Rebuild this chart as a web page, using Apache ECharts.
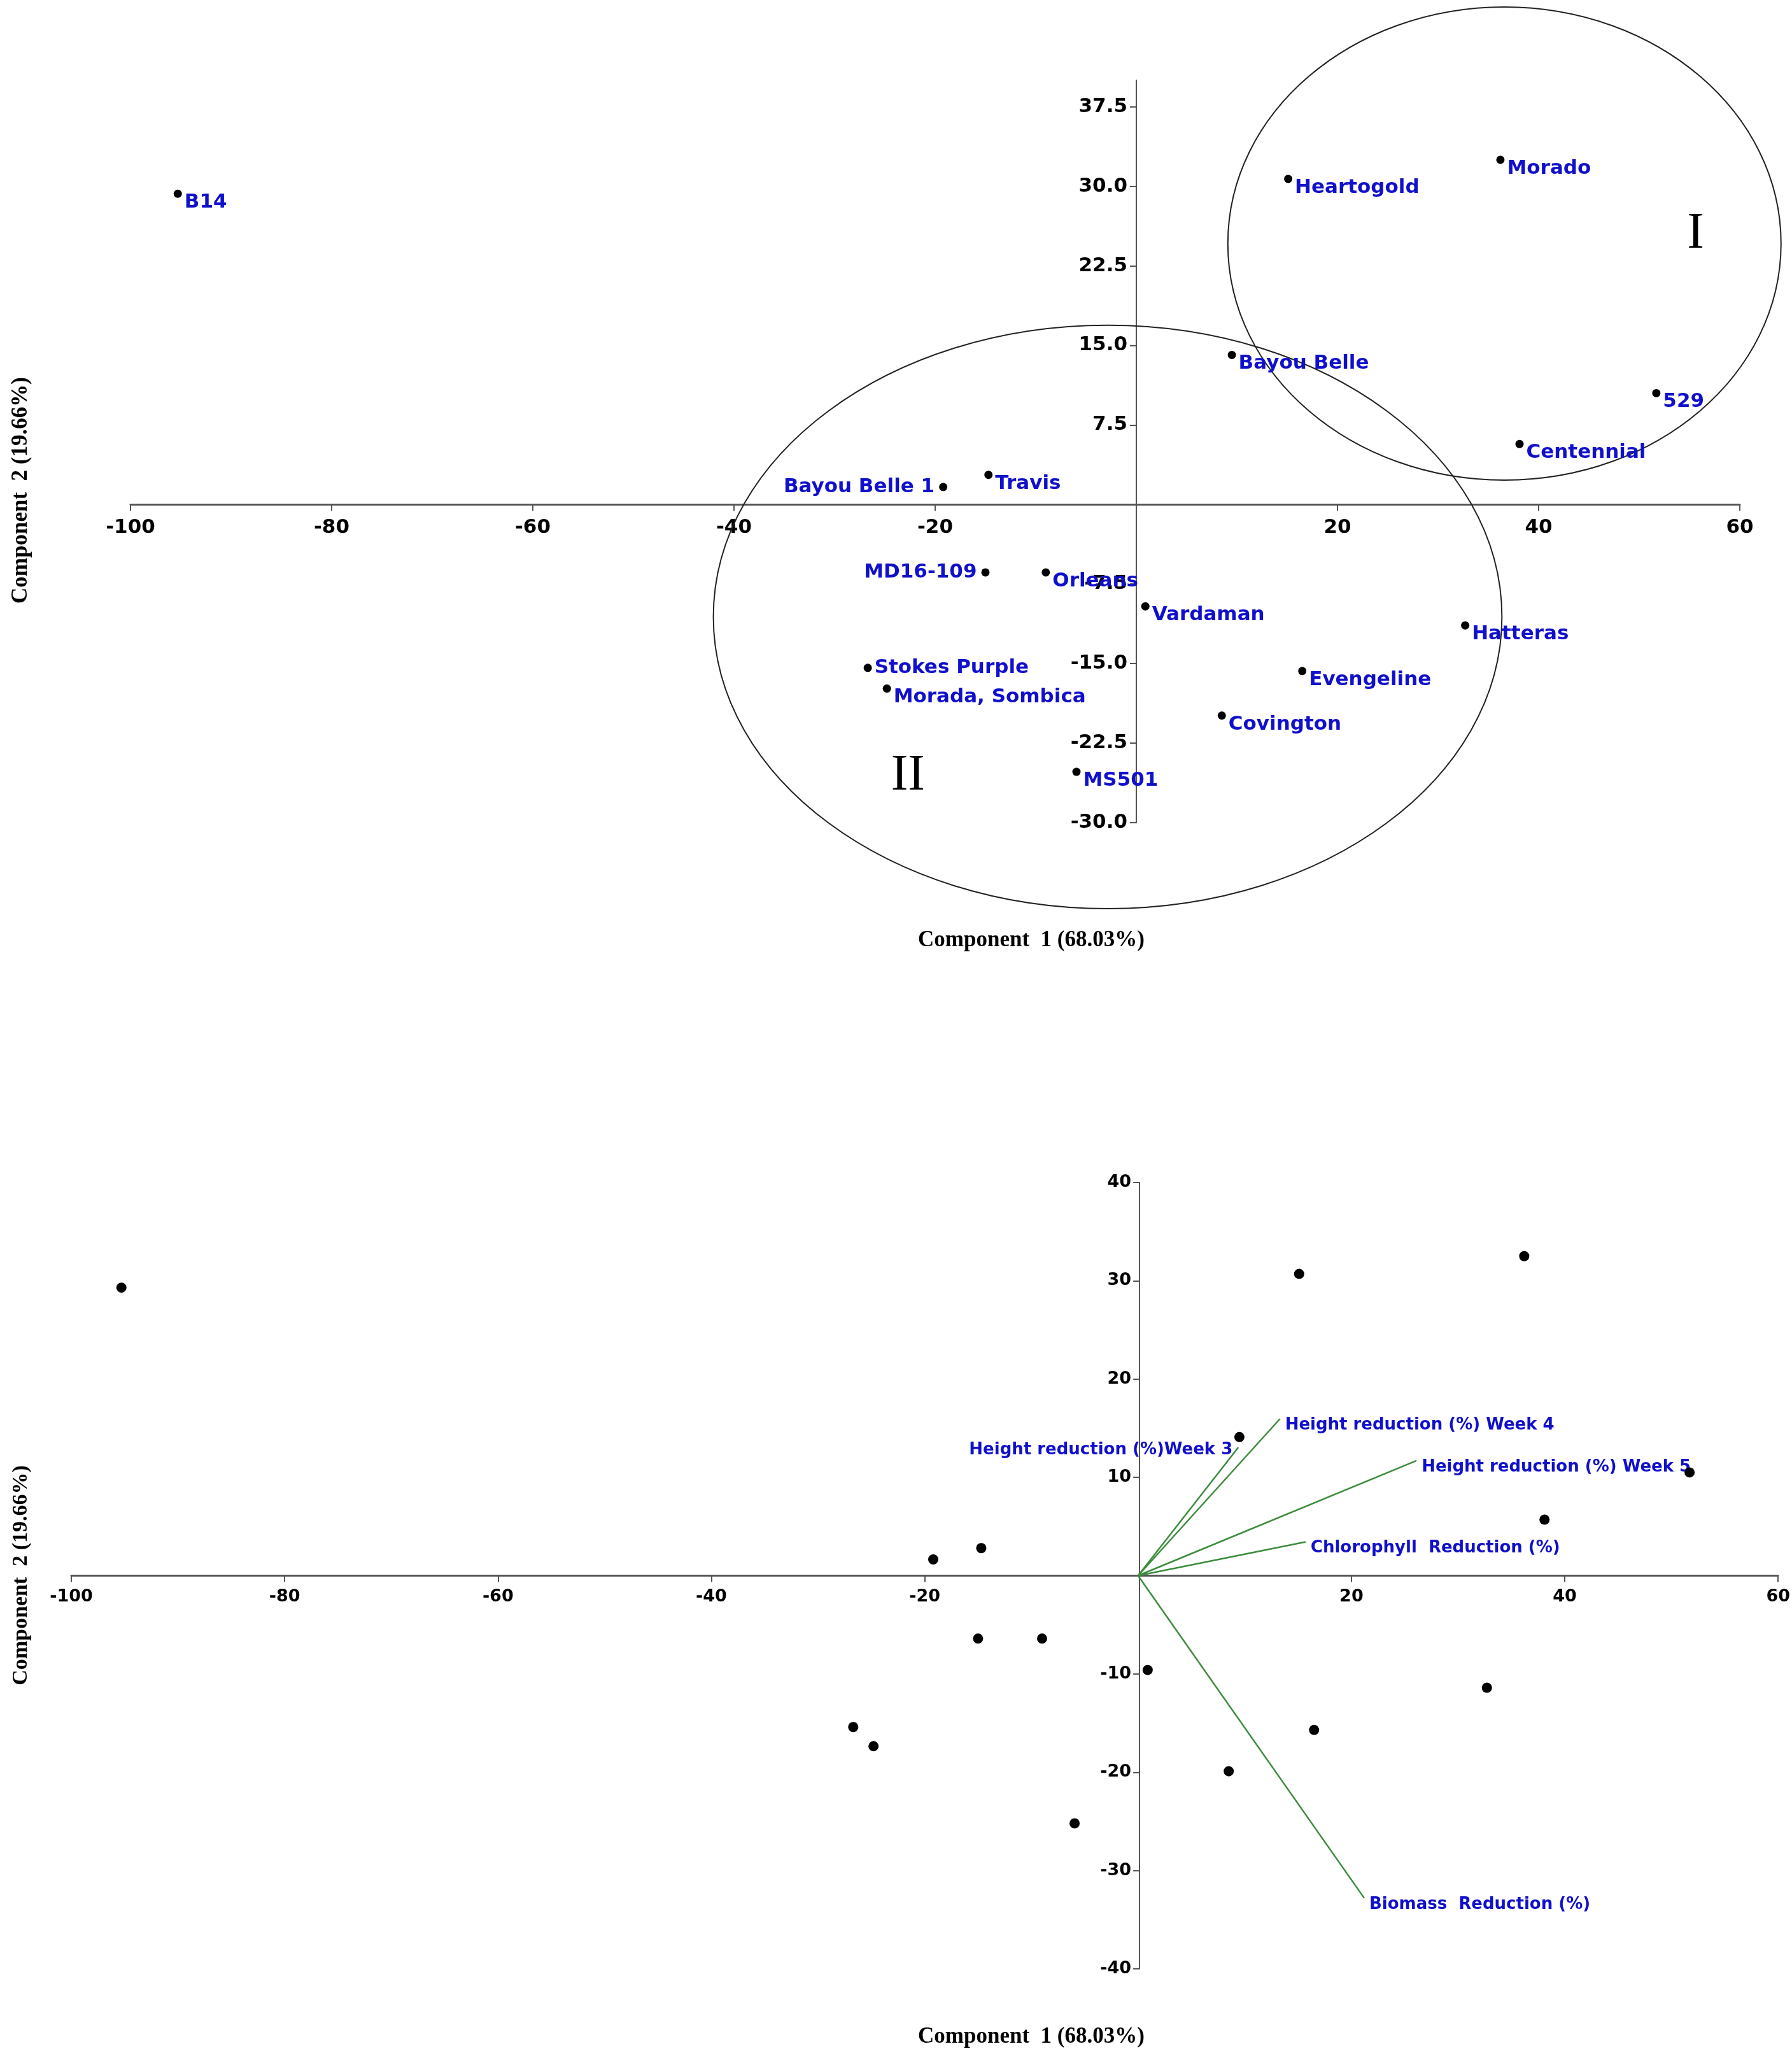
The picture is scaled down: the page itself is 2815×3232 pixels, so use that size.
<!DOCTYPE html>
<html><head><meta charset="utf-8">
<script src="https://cdn.jsdelivr.net/npm/echarts@6/dist/echarts.min.js"></script>
<style>html,body{margin:0;padding:0;background:#fff}#c{width:2815px;height:3232px}</style>
</head><body><div id="c"></div>
<script>
// ---- data ----
const cultivars = ['B14','Heartogold','Morado','Bayou Belle','529','Centennial','Travis','Bayou Belle 1','MD16-109','Orleans','Vardaman','Hatteras','Stokes Purple','Morada, Sombica','Evengeline','Covington','MS501'];
const pc1 = [-95.3, 15.1, 36.2, 9.5, 51.7, 38.1, -14.7, -19.2, -15.0, -9.0, 0.9, 32.7, -26.7, -24.8, 16.5, 8.5, -5.95];
const pc2 = [29.3, 30.7, 32.5, 14.1, 10.5, 5.7, 2.8, 1.65, -6.4, -6.4, -9.6, -11.4, -15.4, -17.35, -15.7, -19.9, -25.2];

const traits = ['Height reduction (%)Week 3','Height reduction (%) Week 4','Height reduction (%) Week 5','Chlorophyll  Reduction (%)','Biomass  Reduction (%)'];
const loadX = [9.4, 13.3, 26.1, 15.7, 21.2];
const loadY = [13.05, 15.95, 11.7, 3.43, -32.8];

const clusterNames = ['I','II'];
const clusterCx = [36.6, -2.85];
const clusterCy = [24.6, -10.6];
const clusterRx = [27.5, 39.2];
const clusterRy = [22.3, 27.5];
const clusterTagX = [55.6, -22.7];
const clusterTagY = [25.5, -25.6];

const topXTicks = [-100, -80, -60, -40, -20, 20, 40, 60];
const topYTicks = [-30, -22.5, -15, -7.5, 7.5, 15, 22.5, 30, 37.5];
const botXTicks = [-100, -80, -60, -40, -20, 20, 40, 60];
const botYTicks = [-40, -30, -20, -10, 10, 20, 30, 40];

// ---- styling / build ----
const BLUE = '#1010cc';
const GREEN = '#3c8c3c';
const leftLabels = new Set(['Bayou Belle 1', 'MD16-109']);
const flatLabels = new Set(['Stokes Purple']);

const grids = [
  { left: 205, right: 82, top: 126, height: 1166 },
  { left: 112, right: 18, top: 1857, height: 1235 }
];
const W = 2815;
const ranges = [
  { x: [-100, 60, 20], y: [-30, 40, 7.5] },
  { x: [-100, 60, 20], y: [-40, 40, 10] }
];

const topPoints = cultivars.map((n, i) => {
  const left = leftLabels.has(n);
  return {
    name: n, value: [pc1[i], pc2[i]],
    label: { position: left ? 'left' : 'right', distance: left ? 7 : 4 }
  };
});
const botPoints = cultivars.map((n, i) => ({ name: n, value: [pc1[i], pc2[i]] }));

// place each axis on the other axis' zero (offset derived from the ranges)
function axis(idx, isY, ticks, fontSize, margin, fmt, lineW) {
  const g = grids[idx];
  const r = isY ? ranges[idx].y : ranges[idx].x;
  const otherR = isY ? ranges[idx].x : ranges[idx].y;
  const otherLen = isY ? (W - g.left - g.right) : g.height;
  const off = isY
    ? -otherLen * (0 - otherR[0]) / (otherR[1] - otherR[0])
    : -otherLen * (0 - otherR[0]) / (otherR[1] - otherR[0]);
  return {
    type: 'value', gridIndex: idx, min: r[0], max: r[1], interval: r[2],
    position: isY ? 'left' : 'bottom',
    offset: off,
    splitLine: { show: false },
    axisLine: { onZero: false, lineStyle: { color: '#555', width: lineW } },
    axisTick: { show: true, length: 10, customValues: ticks, lineStyle: { color: '#555', width: 2 } },
    axisLabel: {
      customValues: ticks, margin: margin,
      color: '#000', fontFamily: 'DejaVu Sans', fontWeight: 'bold', fontSize: fontSize,
      formatter: fmt
    }
  };
}

const txt = (s) => Object.assign({ fill: '#000', textAlign: 'center', textVerticalAlign: 'middle', align: 'center', verticalAlign: 'middle' }, s);

const option = {
  backgroundColor: '#ffffff',
  animation: false,
  grid: grids.map(g => Object.assign({ containLabel: false }, g)),
  xAxis: [
    axis(0, false, topXTicks, 31, 21, v => String(v), 3),
    axis(1, false, botXTicks, 27, 20, v => String(v), 3)
  ],
  yAxis: [
    axis(0, true, topYTicks, 31, 14, v => v.toFixed(1), 2),
    axis(1, true, botYTicks, 27, 13, v => String(v), 2)
  ],
  graphic: [
    { type: 'text', x: 33, y: 770, rotation: Math.PI / 2,
      style: txt({ text: 'Component  2 (19.66%)', font: 'bold 35px "Liberation Serif"' }) },
    { type: 'text', x: 1620, y: 1477,
      style: txt({ text: 'Component  1 (68.03%)', font: 'bold 35px "Liberation Serif"' }) },
    { type: 'text', x: 33, y: 2474, rotation: Math.PI / 2,
      style: txt({ text: 'Component  2 (19.66%)', font: 'bold 34px "Liberation Serif"' }) },
    { type: 'text', x: 1620, y: 3199,
      style: txt({ text: 'Component  1 (68.03%)', font: 'bold 35px "Liberation Serif"' }) }
  ],
  series: [
    {
      type: 'custom', xAxisIndex: 0, yAxisIndex: 0, clip: false, silent: true, z: 1,
      data: clusterNames.map((n, i) => [clusterCx[i], clusterCy[i], clusterRx[i], clusterRy[i], clusterTagX[i], clusterTagY[i], i]),
      renderItem: function (params, api) {
        const c = api.coord([api.value(0), api.value(1)]);
        const s = api.size([api.value(2), api.value(3)]);
        const t = api.coord([api.value(4), api.value(5)]);
        const name = clusterNames[api.value(6)];
        return {
          type: 'group', children: [
            { type: 'ellipse', shape: { cx: c[0], cy: c[1], rx: s[0], ry: s[1] },
              style: { fill: 'none', stroke: '#222', lineWidth: 2 } },
            { type: 'text', x: t[0], y: t[1],
              style: txt({ text: name, font: '80px "Liberation Serif"' }) }
          ]
        };
      }
    },
    {
      type: 'scatter', xAxisIndex: 0, yAxisIndex: 0, z: 3,
      symbol: 'circle', symbolSize: 13,
      itemStyle: { color: '#000', opacity: 1 },
      label: { show: true, formatter: '{b}', color: BLUE, fontFamily: 'DejaVu Sans', fontWeight: 'bold', fontSize: 31 },
      emphasis: { disabled: true },
      labelLayout: function (params) {
        const n = cultivars[params.dataIndex];
        const flat = leftLabels.has(n) || flatLabels.has(n);
        return { dy: flat ? 0 : 14, hideOverlap: false };
      },
      data: topPoints
    },
    {
      type: 'custom', xAxisIndex: 1, yAxisIndex: 1, clip: false, silent: true, z: 2,
      data: traits.map((t, i) => [loadX[i], loadY[i], i]),
      renderItem: function (params, api) {
        const o = api.coord([0, 0]);
        const e = api.coord([api.value(0), api.value(1)]);
        const i = api.value(2);
        const left = i === 0;
        return {
          type: 'group', children: [
            { type: 'line', shape: { x1: o[0], y1: o[1], x2: e[0], y2: e[1] },
              style: { stroke: GREEN, lineWidth: 2.5 } },
            { type: 'text', x: e[0] + (left ? -9 : 8), y: e[1] + (left ? 4 : 10),
              style: txt({ text: traits[i], font: 'bold 26px "DejaVu Sans"', fill: BLUE,
                textAlign: left ? 'right' : 'left', align: left ? 'right' : 'left' }) }
          ]
        };
      }
    },
    {
      type: 'scatter', xAxisIndex: 1, yAxisIndex: 1, z: 3,
      symbol: 'circle', symbolSize: 16,
      itemStyle: { color: '#000', opacity: 1 },
      emphasis: { disabled: true },
      data: botPoints
    }
  ]
};

const chart = echarts.init(document.getElementById('c'), null, { renderer: 'canvas' });
chart.setOption(option);
</script>
</body></html>
